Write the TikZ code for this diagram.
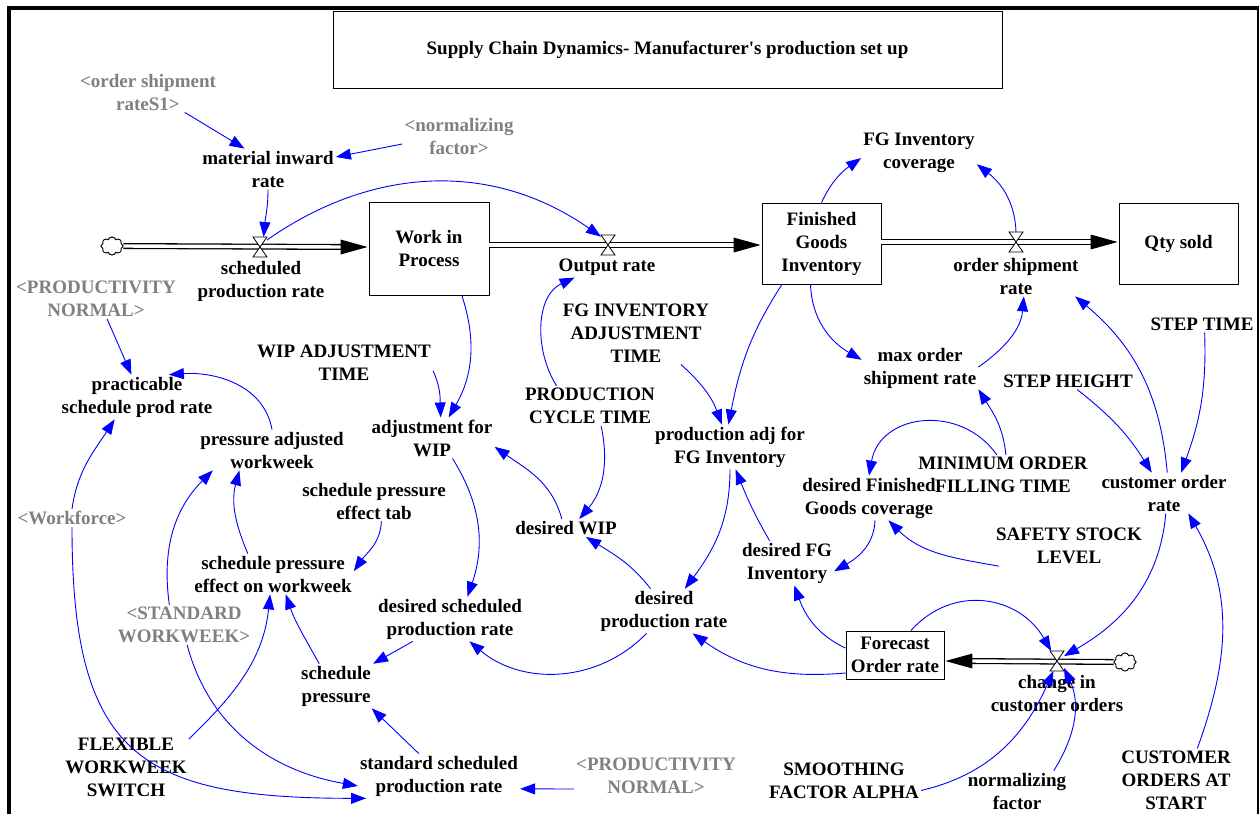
\documentclass[tikz,border=0pt]{standalone}
\usepackage{fontspec}
\setmainfont{Liberation Serif}
\usetikzlibrary{arrows.meta,shapes.symbols}
\definecolor{vblue}{RGB}{0,0,255}
\definecolor{vgray}{RGB}{128,128,128}
\begin{document}
\begin{tikzpicture}[x=1pt,y=1pt,
  lbl/.style={font=\fontsize{19}{23}\selectfont\bfseries, align=center, inner sep=2pt},
  glbl/.style={lbl, text=vgray},
  stock/.style={draw, line width=0.9pt, inner sep=0pt, align=center, font=\fontsize{19}{23}\selectfont\bfseries},
  valve/.style={minimum width=14pt, minimum height=20pt, inner sep=0pt, outer sep=0pt},
  valveshape/.style={fill=white, draw=black, line width=0.8pt},
  link/.style={draw=vblue, line width=0.9pt, -{Triangle[length=15pt,width=11pt,color=vblue]}},
  pipe/.style={draw=black, line width=1.3pt, double=white, double distance=3.4pt},
  srcsink/.style={cloud, cloud puffs=8, aspect=1.2, draw, fill=white, minimum width=22pt, minimum height=18pt, inner sep=0pt, line width=0.8pt}
]
\useasboundingbox (0,0) rectangle (1260,-814);
\fill[white] (0,0) rectangle (1260,-814);

% frame
\draw[line width=4pt] (9,-814) -- (9,-8) -- (1259,-8);
\draw[line width=2.5pt] (1258,-8) -- (1258,-814);

% title
\node[draw, line width=0.8pt, minimum width=669pt, minimum height=77pt, lbl] (title) at (667.5,-49.5) {Supply Chain Dynamics- Manufacturer\textquotesingle s production set up};

% stocks
\node[stock, minimum width=120pt, minimum height=93pt] (wip) at (429,-248.5) {Work in\\Process};
\node[stock, minimum width=119pt, minimum height=81pt] (fgi) at (821.5,-243.5) {Finished\\Goods\\Inventory};
\node[stock, minimum width=119pt, minimum height=81pt] (qty) at (1178.5,-243.5) {Qty sold};
\node[stock, minimum width=98pt, minimum height=48pt] (forc) at (895,-655) {Forecast\\Order rate};

% clouds
\node[srcsink] (cl1) at (112,-246) {};
\node[srcsink] (cl2) at (1125,-662) {};

% valves
\node[valve] (v1) at (260,-247) {};
\node[valve] (v2) at (608,-245) {};
\node[valve] (v3) at (1016,-242) {};
\node[valve] (v4) at (1057,-661) {};

% pipes
\draw[pipe] (cl1.east) -- ([xshift=-26pt]wip.west |- v1.center);
\fill ([xshift=-1pt]wip.west |- v1.center) -- ++(-27,7.5) -- ++(0,-15) -- cycle;
\draw[pipe] (wip.east |- v2.center) -- ([xshift=-26pt]fgi.west |- v2.center);
\fill ([xshift=-1pt]fgi.west |- v2.center) -- ++(-27,7.5) -- ++(0,-15) -- cycle;
\draw[pipe] (fgi.east |- v3.center) -- ([xshift=-26pt]qty.west |- v3.center);
\fill ([xshift=-1pt]qty.west |- v3.center) -- ++(-27,7.5) -- ++(0,-15) -- cycle;
\draw[pipe] (cl2.west) -- ([xshift=26pt]forc.east |- v4.center);
\fill ([xshift=1pt]forc.east |- v4.center) -- ++(27,7.5) -- ++(0,-15) -- cycle;
\node[srcsink] at (cl1) {};
\node[srcsink] at (cl2) {};

\foreach \v in {v1,v2,v3,v4}
  \filldraw[valveshape] (\v.north west) -- (\v.north east) -- (\v.south west) -- (\v.south east) -- cycle;

% labels
\node[glbl] (os1) at (148,-92) {<order shipment\\rateS1>};
\node[glbl] (nf1) at (459,-136) {<normalizing\\factor>};
\node[lbl] (mir) at (268,-169) {material inward\\rate};
\node[lbl] (spr) at (261,-281) {scheduled\\production rate};
\node[lbl] (outr) at (607,-267) {Output rate};
\node[lbl] (cov) at (919,-153) {FG Inventory\\coverage};
\node[lbl] (osr) at (1016,-276) {order shipment\\rate};
\node[glbl] (pn1) at (96,-299) {<PRODUCTIVITY\\NORMAL>};
\node[lbl] (wat) at (344,-363) {WIP ADJUSTMENT\\TIME};
\node[lbl] (fat) at (636,-333) {FG INVENTORY\\ADJUSTMENT\\TIME};
\node[lbl] (mosr) at (920,-368) {max order\\shipment rate};
\node[lbl] (stime) at (1202,-324) {STEP TIME};
\node[lbl] (sh) at (1068,-381) {STEP HEIGHT};
\node[lbl] (psr) at (137,-397) {practicable\\schedule prod rate};
\node[lbl] (pct) at (590,-406) {PRODUCTION\\CYCLE TIME};
\node[lbl] (adj) at (432,-438) {adjustment for\\WIP};
\node[lbl] (paw) at (272,-450) {pressure adjusted\\workweek};
\node[lbl] (pafg) at (730,-447) {production adj for\\FG Inventory};
\node[lbl] (mof) at (1003,-475) {MINIMUM ORDER\\FILLING TIME};
\node[lbl] (dfgc) at (869,-498) {desired Finished\\Goods coverage};
\node[lbl] (cor) at (1164,-493) {customer order\\rate};
\node[lbl] (spt) at (374,-501) {schedule pressure\\effect tab};
\node[lbl] (dwip) at (566,-528) {desired WIP};
\node[glbl] (wf) at (72,-518) {<Workforce>};
\node[lbl] (ssl) at (1069,-546) {SAFETY STOCK\\LEVEL};
\node[lbl] (dfgi) at (787,-563) {desired FG\\Inventory};
\node[lbl] (spew) at (273,-574) {schedule pressure\\effect on workweek};
\node[lbl] (dpr) at (664,-611) {desired\\production rate};
\node[lbl] (dspr) at (450,-619) {desired scheduled\\production rate};
\node[glbl] (sw) at (184,-625) {<STANDARD\\WORKWEEK>};
\node[lbl] (sp) at (336,-686) {schedule\\pressure};
\node[lbl] (cco) at (1057,-694) {change in\\customer orders};
\node[lbl] (fws) at (126,-767) {FLEXIBLE\\WORKWEEK\\SWITCH};
\node[lbl] (sspr) at (439,-776) {standard scheduled\\production rate};
\node[glbl] (pn2) at (656,-776) {<PRODUCTIVITY\\NORMAL>};
\node[lbl] (sfa) at (844,-781) {SMOOTHING\\FACTOR ALPHA};
\node[lbl] (nf2) at (1017,-791) {normalizing\\factor};
\node[lbl] (coas) at (1176,-780) {CUSTOMER\\ORDERS AT\\START};

% connectors
\draw[link] (os1.-29) -- (mir.139);
\draw[link] (nf1.188) -- (mir.10);
\draw[link] (mir.-90) to[out=-90,in=85] (v1.70);
\draw[link] (v1.45) to[out=35,in=145] (v2.130);
\draw[link] (wip.-55) to[out=-72,in=60] (adj.51);
\draw[link] (wat.-5) to[out=-65,in=92] (adj.67);
\draw[link] (pct.149) to[out=122,in=205] (outr.198);
\draw[link] (pct.-61) to[out=-78,in=50] (dwip.34);
\draw[link] (dwip.115) to[out=105,in=-35] (adj.-8);
\draw[link] (adj.-45) to[out=-58,in=71] (dspr.52);
\draw[link] (dpr.121) to[out=128,in=-32] (dwip.-24);
\draw[link] (dpr.232) to[out=226,in=-40] (dspr.-49);
\draw[link] (pafg.-90) to[out=-90,in=53] (dpr.47);
\draw[link] (fat.-35) to[out=-42,in=110] (pafg.110);
\draw[link] (fgi.-134) to[out=-123,in=79] (pafg.94);
\draw[link] (dfgi.128) to[out=120,in=-68] (pafg.-76);
\draw[link] (fgi.90) to[out=65,in=215] (cov.185);
\draw[link] (v3.90) to[out=92,in=-38] (cov.-11);
\draw[link] (fgi.-105) to[out=-88,in=150] (mosr.172);
\draw[link] (mosr.1) to[out=35,in=-95] (osr.-69);
\draw[link] (mof.82) to[out=95,in=-58] (mosr.-20);
\draw[link] (mof.107) to[out=125,in=80,looseness=1.25] (dfgc.90);
\draw[link] (dfgc.-75) to[out=-92,in=30] (dfgi.-10);
\draw[link] (ssl.196) to[out=170,in=-45] (dfgc.-49);
\draw[link] (sh.-43) to[out=-38,in=122] (cor.121);
\draw[link] (stime.-73) to[out=-88,in=70] (cor.50);
\draw[link] (cor.81) to[out=95,in=-40] (osr.-19);
\draw[link] (cor.-85) to[out=-95,in=30] (v4.35);
\draw[link] (coas.56) to[out=70,in=-60] (cor.-40);
\draw[link] (forc.57) to[out=48,in=120,looseness=1.15] (v4.120);
\draw[link] (forc.172) to[out=155,in=-70] (dfgi.-72);
\draw[link] (forc.200) to[out=185,in=-35] (dpr.-38);
\draw[link] (sfa.-7) to[out=13,in=-114] (v4.-110);
\draw[link] (nf2.29) to[out=58,in=-65] (v4.-45);
\draw[link] (dspr.211) -- (sp.31);
\draw[link] (sspr.132) -- (sp.-32);
\draw[link] (sp.127) to[out=119,in=-71] (spew.-58);
\draw[link] (spt.-70) to[out=-93,in=55] (spew.2);
\draw[link] (spew.141) to[out=113,in=-105] (paw.212);
\draw[link] (paw.90) to[out=100,in=4] (psr.35);
\draw[link] (pn1.-61.5) -- (psr.104);
\draw[link] (wf.90) to[out=82,in=-123] (psr.225);
\draw[link] (wf.-90) to[out=-90,in=180,looseness=1.45] (sspr.197);
\draw[link] (sw.126) to[out=98,in=-135] (paw.199);
\draw[link] (sw.-81) to[out=-75,in=170] (sspr.187);
\draw[link] (fws.24) to[out=44,in=-96] (spew.-98);
\draw[link] (pn2.189) -- (sspr.-9);
\end{tikzpicture}
\end{document}
